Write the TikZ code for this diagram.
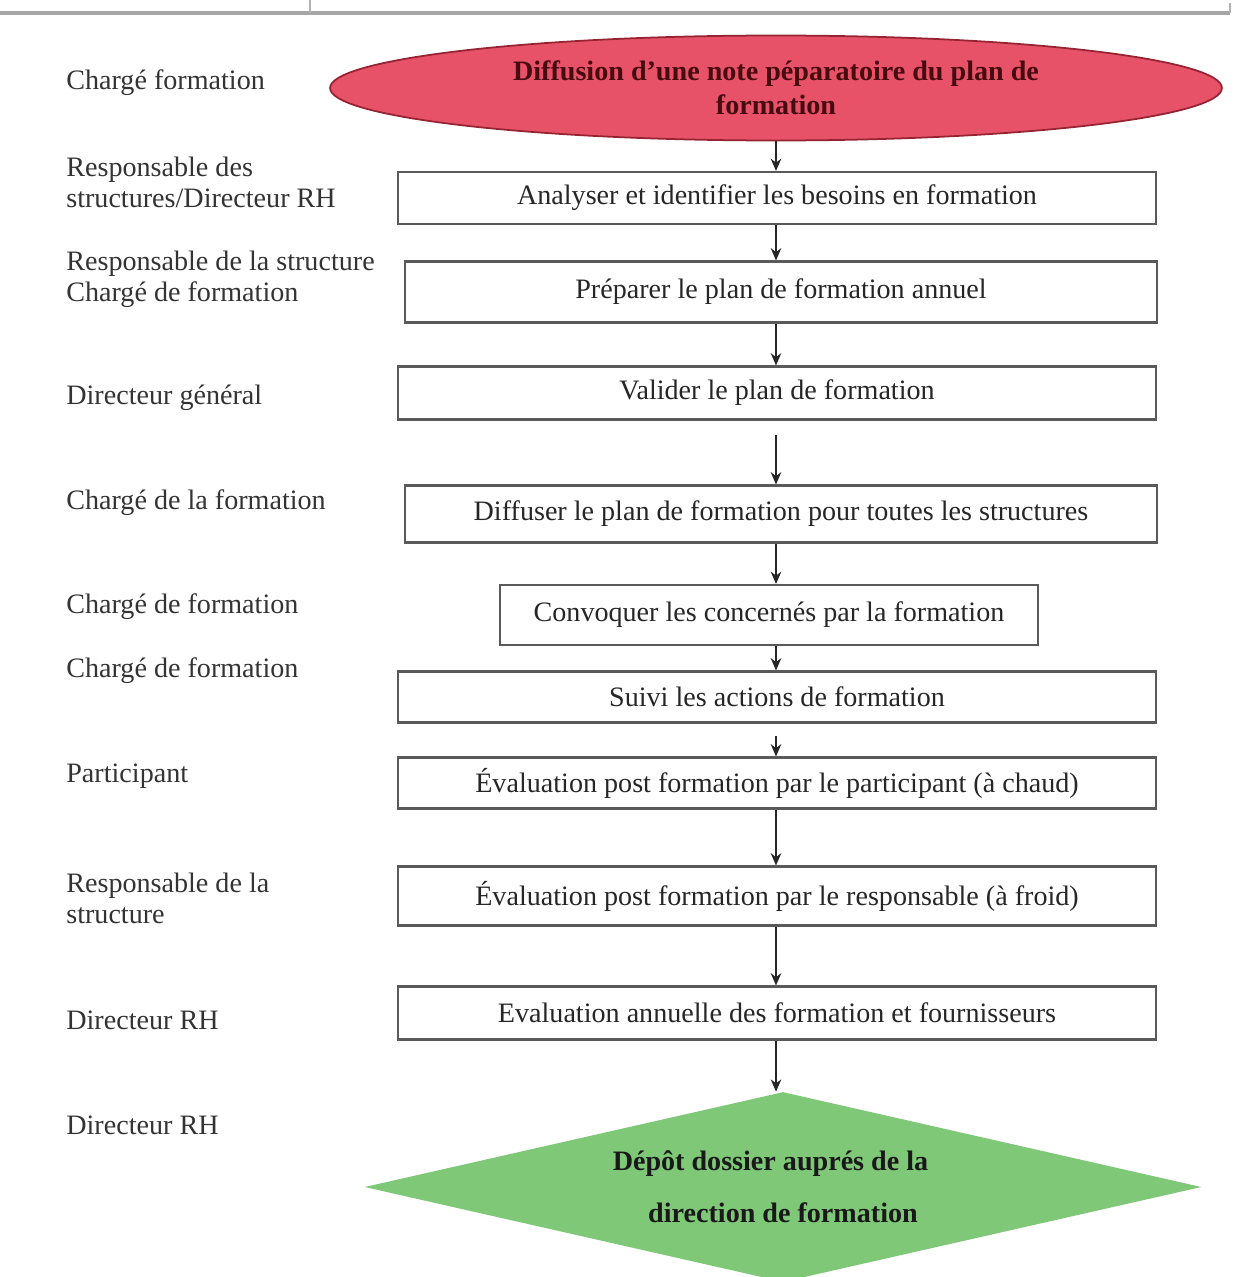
\documentclass[tikz,border=0pt]{standalone}
\usepackage{fontspec}
\setmainfont{Liberation Serif}
\usetikzlibrary{shapes.geometric,arrows.meta,positioning,calc}
\definecolor{noteRed}{RGB}{232,82,104}
\definecolor{noteRedDark}{RGB}{150,35,50}
\definecolor{noteText}{RGB}{70,10,15}
\definecolor{depotGreen}{RGB}{126,200,120}
\definecolor{boxGray}{RGB}{90,90,90}

\tikzset{
  etape/.style={draw=boxGray, line width=1.2pt, inner sep=0pt, font=\fontsize{16}{19}\selectfont, text=black!85},
  acteur/.style={anchor=west, align=left, inner sep=0pt, font=\fontsize{16}{17.6}\selectfont, text=black!80},
  fleche/.style={-{Stealth[length=7pt,width=6pt]}, line width=0.9pt, black!85},
}

\begin{document}
\begin{tikzpicture}[x=0.02cm, y=-0.02cm]
    \clip (0,0) rectangle (1234,1277);

    % Top rule
    \draw[gray!70, line width=2pt] (0,13) -- (1230,13);
    \draw[gray!60, line width=0.8pt] (310,0) -- (310,13);
    \draw[gray!60, line width=0.8pt] (1230,3) -- (1230,13);

    % Start
    \node[ellipse, draw=noteRedDark, line width=1pt, fill=noteRed, minimum width=17.84cm, minimum height=2.1cm,
          inner sep=0pt, align=center, font=\bfseries\fontsize{16}{19.3}\selectfont, text=noteText]
          (note) at (776,88) {Diffusion d'une note péparatoire du plan de\\formation};

    % Steps
    \foreach \n/\x/\y/\w/\h/\txt in {
        1/777/198/15.18/1.04/Analyser et identifier les besoins en formation,
        2/781/292/15.04/1.22/Préparer le plan de formation annuel,
        3/777/393/15.18/1.06/Valider le plan de formation,
        4/781/514/15.04/1.14/Diffuser le plan de formation pour toutes les structures,
        5/769/615/10.76/1.20/Convoquer les concernés par la formation,
        6/777/697/15.18/1.02/Suivi les actions de formation,
        7/777/783/15.18/1.02/Évaluation post formation par le participant (à chaud),
        8/777/896/15.18/1.18/Évaluation post formation par le responsable (à froid),
        9/777/1013/15.18/1.06/Evaluation annuelle des formation et fournisseurs} {
        \node[etape, minimum width=\w cm, minimum height=\h cm] (b\n) at (\x,\y) {\txt};
    }

    % End
    \node[diamond, fill=depotGreen, aspect=4.4, minimum width=16.74cm, minimum height=3.8cm, inner sep=0pt,
          align=center, font=\bfseries\fontsize{16}{29.5}\selectfont, text=black!90]
          (depot) at (783,1187) {\hspace*{-0.5cm}Dépôt dossier auprés de la\\direction de formation};

    % Actors
    \foreach \k/\y/\txt in {
        a/83/Chargé formation,
        b/182/{Responsable des\\structures/Directeur RH},
        c/279/{Responsable de la structure\\Chargé de formation},
        d/398/Directeur général,
        e/503/Chargé de la formation,
        f/607/Chargé de formation,
        g/671/Chargé de formation,
        h/776/Participant,
        i/898/{Responsable de la\\structure},
        j/1020/Directeur RH,
        k/1125/Directeur RH} {
        \node[acteur] (act\k) at (66,\y) {\txt};
    }

    % Arrows
    \coordinate (axe) at (776,0);
    \draw[fleche] (note.south -| axe) -- (b1.north -| axe);
    \foreach \a/\b/\s in {1/2/0, 2/3/0, 3/4/8, 4/5/0, 5/6/0, 6/7/7, 7/8/0, 8/9/0} {
        \draw[fleche, shorten <=\s pt] (b\a.south -| axe) -- (b\b.north -| axe);
    }
    \draw[fleche] (b9.south -| axe) -- (depot.north -| axe);

\end{tikzpicture}
\end{document}
